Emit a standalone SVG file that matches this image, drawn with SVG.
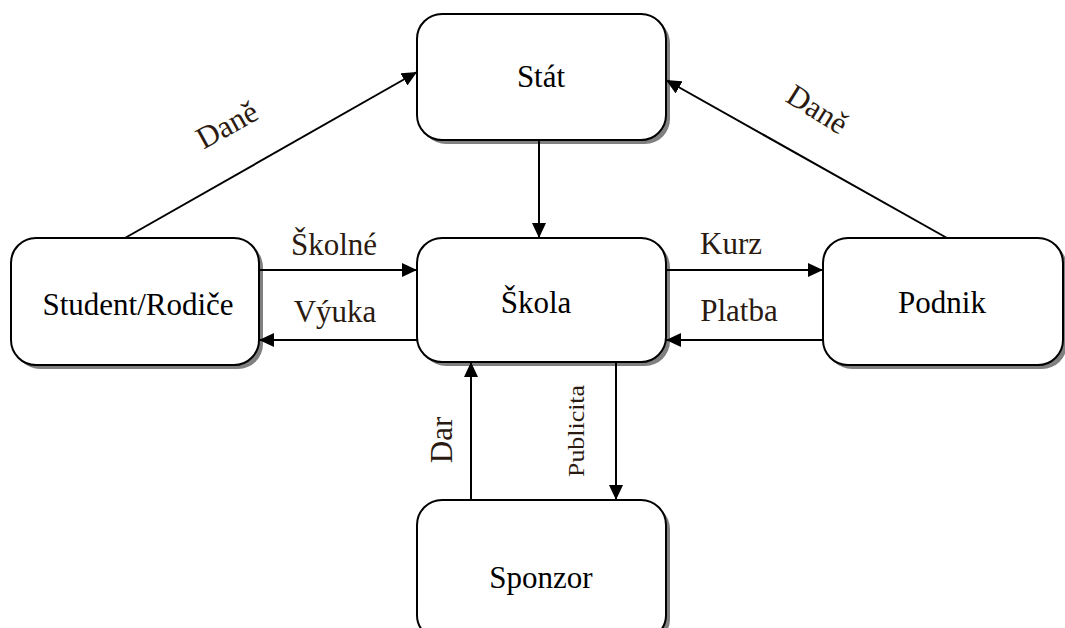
<svg xmlns="http://www.w3.org/2000/svg" width="1065" height="628" viewBox="0 0 1065 628">
<defs>
<marker id="ah" markerWidth="15" markerHeight="14" refX="15" refY="7" orient="auto" markerUnits="userSpaceOnUse">
<path d="M0,0 L15,7 L0,14 Z" fill="#000"/>
</marker>
</defs>
<style>
.box{fill:#fff;stroke:#000;stroke-width:2}
.sh{fill:#808080}
.nt{font-family:"Liberation Serif","Times New Roman",serif;font-size:31px;fill:#000;text-anchor:middle}
.lb{font-family:"Liberation Serif","Times New Roman",serif;font-size:31px;fill:#2a1a10;text-anchor:middle}
.ln{stroke:#000;stroke-width:2;fill:none;marker-end:url(#ah)}
</style>
<rect width="1065" height="628" fill="#fff"/>
<g id="stat">
<rect class="sh" x="421" y="18" width="249" height="126" rx="25"/>
<rect class="box" x="417" y="14" width="249" height="126" rx="25"/>
<text class="nt" x="541" y="87">Stát</text>
</g>
<g id="skola">
<rect class="sh" x="421" y="242" width="249" height="124" rx="25"/>
<rect class="box" x="417" y="238" width="249" height="124" rx="25"/>
<text class="nt" x="536" y="313">Škola</text>
</g>
<g id="student">
<rect class="sh" x="15" y="242" width="248" height="127" rx="25"/>
<rect class="box" x="11" y="238" width="248" height="127" rx="25"/>
<text class="nt" x="138" y="315">Student/Rodiče</text>
</g>
<g id="podnik">
<rect class="sh" x="827" y="242" width="240" height="127" rx="25"/>
<rect class="box" x="823" y="238" width="240" height="127" rx="25"/>
<text class="nt" x="942" y="313">Podnik</text>
</g>
<g id="sponzor">
<rect class="sh" x="421" y="504" width="249" height="140" rx="25"/>
<rect class="box" x="417" y="500" width="249" height="140" rx="25"/>
<text class="nt" x="541" y="588">Sponzor</text>
</g>
<g id="connectors">
<line class="ln" x1="539" y1="140" x2="539" y2="238"/>
<line class="ln" x1="125" y1="238" x2="417" y2="72"/>
<line class="ln" x1="947" y1="238" x2="666" y2="80"/>
<line class="ln" x1="259" y1="270" x2="417" y2="270"/>
<line class="ln" x1="417" y1="340" x2="259" y2="340"/>
<line class="ln" x1="666" y1="270" x2="823" y2="270"/>
<line class="ln" x1="823" y1="340" x2="666" y2="340"/>
<line class="ln" x1="471" y1="500" x2="471" y2="362"/>
<line class="ln" x1="616" y1="362" x2="616" y2="500"/>
</g>
<g id="labels">
<text class="lb" x="0" y="0" transform="translate(232,134) rotate(-29)">Daně</text>
<text class="lb" x="0" y="0" transform="translate(812,118) rotate(32)">Daně</text>
<text class="lb" x="334" y="255">Školné</text>
<text class="lb" x="335" y="322">Výuka</text>
<text class="lb" x="731" y="254">Kurz</text>
<text class="lb" x="739" y="321">Platba</text>
<text class="lb" x="0" y="0" transform="translate(452,440) rotate(-90)">Dar</text>
<text class="lb" style="font-size:24px" x="0" y="0" transform="translate(584,431) rotate(-90)" textLength="92" lengthAdjust="spacingAndGlyphs">Publicita</text>
</g>
</svg>
